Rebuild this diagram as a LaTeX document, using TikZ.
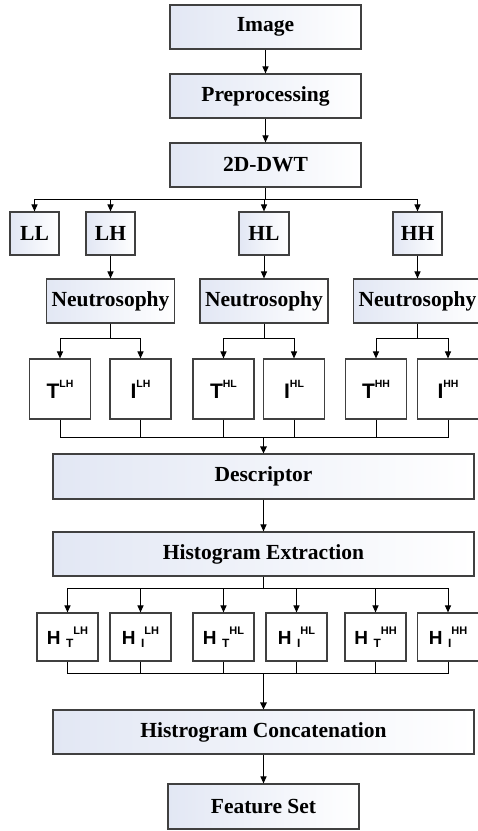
\documentclass[tikz,border=0pt]{standalone}
\usepackage{fontspec}
\setmainfont{Liberation Serif}
\newfontfamily\sansfont{Liberation Sans}
\usetikzlibrary{arrows.meta}
\definecolor{gradblue}{HTML}{E2E7F4}
\definecolor{edge}{HTML}{404040}
\tikzset{
  mainbox/.style={draw=edge, line width=1.1pt, left color=gradblue, right color=white,
    inner sep=0pt, font=\fontsize{21.5}{24}\selectfont\bfseries},
  plainbox/.style={draw=edge, line width=1.1pt, fill=white, inner sep=0pt,
    minimum width=61pt, font=\sansfont\bfseries},
  conn/.style={line width=1pt, black},
  arr/.style={conn, -{Triangle[length=7pt,width=6pt]}},
  thickarr/.style={line width=1.6pt, black, -{Triangle[length=7pt,width=6.5pt]}}
}
\newcommand{\tlab}[2]{{\fontsize{21}{21}\selectfont #1}\raisebox{11pt}{\fontsize{10.5}{10.5}\selectfont #2}}
\newcommand{\hlab}[2]{{\fontsize{19}{19}\selectfont H\hspace{5.5pt}}\raisebox{-3pt}{\fontsize{12}{12}\selectfont #1}\raisebox{10.5pt}{\fontsize{11}{11}\selectfont #2}}
\begin{document}
\begin{tikzpicture}[x=1pt,y=-1pt]
\useasboundingbox (0,0) rectangle (478,831);
% top chain
\node[mainbox, minimum width=191pt, minimum height=44pt] (img) at (265.5,27) {Image};
\node[mainbox, minimum width=191pt, minimum height=44pt] (pre) at (265.5,96) {Preprocessing};
\node[mainbox, minimum width=191pt, minimum height=44pt] (dwt) at (265.5,165) {2D-DWT};
% subbands
\node[mainbox, minimum width=49pt, minimum height=43pt] (LL) at (34.5,233.5) {LL};
\node[mainbox, minimum width=49pt, minimum height=43pt] (LH) at (110.5,233.5) {LH};
\node[mainbox, minimum width=50pt, minimum height=43pt] (HL) at (264,233.5) {HL};
\node[mainbox, minimum width=49pt, minimum height=43pt] (HH) at (417.5,233.5) {HH};
% neutrosophy
\node[mainbox, minimum width=128pt, minimum height=44pt] (N1) at (110.5,301) {Neutrosophy};
\node[mainbox, minimum width=128pt, minimum height=44pt] (N2) at (264,301) {Neutrosophy};
\node[mainbox, minimum width=128pt, minimum height=44pt] (N3) at (417.5,301) {Neutrosophy};
% T / I boxes
\node[plainbox, minimum height=60pt] (T1) at (60,389) {\tlab{T}{LH}};
\node[plainbox, minimum height=60pt] (I1) at (140.5,389) {\tlab{I}{LH}};
\node[plainbox, minimum height=60pt] (T2) at (223.5,389) {\tlab{T}{HL}};
\node[plainbox, minimum height=60pt] (I2) at (294,389) {\tlab{I}{HL}};
\node[plainbox, minimum height=60pt] (T3) at (376,389) {\tlab{T}{HH}};
\node[plainbox, minimum height=60pt] (I3) at (448,389) {\tlab{I}{HH}};
% descriptor and histogram
\node[mainbox, minimum width=421pt, minimum height=45pt] (desc) at (263.5,476.5) {Descriptor};
\node[mainbox, minimum width=421pt, minimum height=44pt] (he) at (263.5,554) {Histogram Extraction};
% H boxes
\node[plainbox, minimum height=48pt] (H1) at (67.5,637) {\hlab{T}{LH}};
\node[plainbox, minimum height=48pt] (H2) at (140.5,637) {\hlab{I}{LH}};
\node[plainbox, minimum height=48pt] (H3) at (223.5,637) {\hlab{T}{HL}};
\node[plainbox, minimum height=48pt] (H4) at (296.5,637) {\hlab{I}{HL}};
\node[plainbox, minimum height=48pt] (H5) at (375.5,637) {\hlab{T}{HH}};
\node[plainbox, minimum height=48pt] (H6) at (448,637) {\hlab{I}{HH}};
% bottom
\node[mainbox, minimum width=421pt, minimum height=44pt] (hc) at (263.5,732) {Histrogram Concatenation};
\node[mainbox, minimum width=191pt, minimum height=45pt] (fs) at (263.5,806.5) {Feature Set};
% connectors
\draw[arr] (img) -- (pre);
\draw[arr] (pre) -- (dwt);
\draw[conn] (dwt.south) -- ++(0,12) coordinate (busT);
\foreach \n in {LL,LH,HL,HH} \draw[arr] (busT) -| (\n.north);
\draw[arr] (LH.south) -- (N1.north);
\draw[arr] (HL.south) -- (N2.north);
\draw[arr] (HH.south) -- (N3.north);
\draw[arr] (N1.south) -- ++(0,15) -| (T1.north);
\draw[arr] (N1.south) -- ++(0,15) -| (I1.north);
\draw[arr] (N2.south) -- ++(0,15) -| (T2.north);
\draw[arr] (N2.south) -- ++(0,15) -| (I2.north);
\draw[arr] (N3.south) -- ++(0,15) -| (T3.north);
\draw[arr] (N3.south) -- ++(0,15) -| (I3.north);
\coordinate (busA) at (263.5,437);
\foreach \n in {T1,I1,T2,I2,T3,I3} \draw[conn] (\n.south) |- (busA);
\draw[thickarr] (busA) -- (desc.north);
\draw[arr] (desc) -- (he);
\draw[conn] (he.south) -- ++(0,12) coordinate (busH);
\foreach \n in {H1,H2,H3,H4,H5,H6} \draw[arr] (busH) -| (\n.north);
\coordinate (busB) at (263.5,673);
\foreach \n in {H1,H2,H3,H4,H5,H6} \draw[conn] (\n.south) |- (busB);
\draw[thickarr] (busB) -- (hc.north);
\draw[arr] (hc) -- (fs);
\end{tikzpicture}
\end{document}
